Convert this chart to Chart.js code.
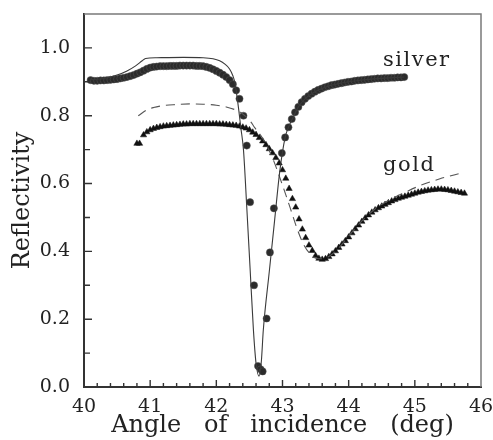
<!DOCTYPE html>
<html>
<head>
<meta charset="utf-8">
<script src="https://cdn.jsdelivr.net/npm/chart.js@4.4.0/dist/chart.umd.min.js"></script>
<style>
  body { margin: 0; background: #fff; }
</style>
</head>
<body>
<canvas id="chart" width="493" height="440"></canvas>
<script>
// measured reflectivity, silver film (circles)
const silverAngle = [40.10,40.15,40.20,40.25,40.30,40.35,40.40,40.45,40.50,40.55,40.60,40.65,40.70,40.75,40.80,40.85,40.90,40.95,41.00,41.05,41.10,41.15,41.20,41.25,41.30,41.35,41.40,41.45,41.50,41.55,41.60,41.65,41.70,41.75,41.80,41.85,41.90,41.95,42.00,42.05,42.10,42.15,42.20,42.25,42.30,42.35,42.41,42.46,42.51,42.57,42.63,42.67,42.70,42.76,42.81,42.87,42.99,43.04,43.09,43.14,43.19,43.24,43.29,43.34,43.39,43.44,43.49,43.54,43.59,43.64,43.69,43.74,43.79,43.84,43.89,43.94,43.99,44.04,44.09,44.14,44.19,44.24,44.29,44.34,44.39,44.44,44.49,44.54,44.59,44.64,44.69,44.74,44.79,44.84]
const silverMeas = [0.905,0.903,0.903,0.904,0.904,0.905,0.906,0.907,0.908,0.910,0.912,0.914,0.917,0.920,0.924,0.928,0.933,0.938,0.942,0.944,0.945,0.946,0.946,0.946,0.947,0.947,0.947,0.948,0.948,0.948,0.948,0.948,0.947,0.947,0.946,0.944,0.941,0.937,0.932,0.927,0.921,0.914,0.905,0.893,0.875,0.850,0.800,0.712,0.545,0.300,0.062,0.052,0.046,0.202,0.397,0.527,0.690,0.736,0.766,0.790,0.810,0.826,0.840,0.850,0.858,0.865,0.871,0.876,0.880,0.884,0.887,0.890,0.892,0.894,0.896,0.898,0.900,0.901,0.903,0.904,0.905,0.906,0.907,0.908,0.909,0.910,0.910,0.911,0.911,0.912,0.912,0.913,0.913,0.914]

// theory, silver (solid line)
const silverTheoryAngle = [40.10,40.30,40.50,40.65,40.78,40.88,40.93,41.10,41.50,41.80,41.95,42.05,42.13,42.20,42.25,42.28,42.31,42.34,42.37,42.41,42.46,42.51,42.56,42.60,42.645,42.68,42.71,42.80,42.88,42.96,43.04,43.09,43.16,43.24,43.34,43.49,43.69,43.94,44.24,44.54,44.84]
const silverTheory = [0.906,0.910,0.920,0.932,0.947,0.962,0.969,0.971,0.972,0.971,0.968,0.962,0.952,0.938,0.918,0.898,0.860,0.815,0.765,0.700,0.530,0.350,0.170,0.070,0.032,0.075,0.168,0.340,0.490,0.638,0.736,0.766,0.795,0.826,0.850,0.871,0.887,0.898,0.906,0.911,0.914]

// measured reflectivity, gold film (triangles)
const goldAngle = [40.80,40.84,40.90,40.95,41.00,41.05,41.10,41.15,41.20,41.25,41.30,41.35,41.40,41.45,41.50,41.55,41.60,41.65,41.70,41.75,41.80,41.85,41.90,41.95,42.00,42.05,42.10,42.15,42.20,42.25,42.30,42.35,42.40,42.45,42.50,42.55,42.60,42.65,42.70,42.75,42.80,42.85,42.90,42.95,43.00,43.05,43.10,43.15,43.20,43.25,43.30,43.35,43.40,43.45,43.50,43.55,43.60,43.65,43.70,43.75,43.80,43.85,43.90,43.95,44.00,44.05,44.10,44.15,44.20,44.25,44.30,44.35,44.40,44.45,44.50,44.55,44.60,44.65,44.70,44.75,44.80,44.85,44.90,44.95,45.00,45.05,45.10,45.15,45.20,45.25,45.30,45.35,45.40,45.45,45.50,45.55,45.60,45.65,45.70,45.75]
const goldMeas = [0.718,0.718,0.743,0.752,0.758,0.762,0.765,0.767,0.769,0.770,0.771,0.772,0.773,0.774,0.775,0.775,0.776,0.776,0.776,0.776,0.776,0.776,0.776,0.776,0.776,0.775,0.775,0.774,0.773,0.772,0.771,0.769,0.766,0.763,0.758,0.751,0.744,0.735,0.725,0.714,0.702,0.690,0.676,0.660,0.640,0.615,0.585,0.555,0.530,0.495,0.465,0.440,0.418,0.402,0.387,0.379,0.376,0.378,0.384,0.392,0.401,0.411,0.421,0.431,0.442,0.454,0.466,0.477,0.488,0.498,0.507,0.515,0.522,0.528,0.533,0.538,0.543,0.548,0.552,0.556,0.559,0.562,0.565,0.568,0.571,0.574,0.576,0.578,0.580,0.581,0.582,0.583,0.583,0.582,0.581,0.579,0.577,0.575,0.573,0.571]

// theory, gold (dashed line)
const goldTheoryAngle = [40.82,40.95,41.05,41.20,41.40,41.60,41.80,42.00,42.15,42.28,42.38,42.46,42.52,42.58,42.70,42.85,43.00,43.12,43.22,43.32,43.42,43.52,43.60,43.70,43.85,44.00,44.20,44.40,44.60,44.83,45.08,45.38,45.72]
const goldTheory = [0.800,0.817,0.824,0.830,0.833,0.835,0.834,0.831,0.826,0.818,0.808,0.795,0.782,0.765,0.733,0.675,0.595,0.526,0.467,0.420,0.392,0.379,0.378,0.385,0.410,0.445,0.490,0.525,0.550,0.572,0.594,0.614,0.632]

const xTickLabels = ['40','41','42','43','44','45','46']
const yTickLabels = ['0.0','0.2','0.4','0.6','0.8','1.0']

const pts = (xs, ys) => xs.map((x, i) => ({x: x, y: ys[i]}))
const serif = '"DejaVu Serif", serif'

// box, inward ticks and the two curve labels
const framePlugin = {
  id: 'framePlugin',
  afterDraw(chart) {
    const ctx = chart.ctx
    const xs = chart.scales.x
    const ys = chart.scales.y
    const L = xs.getPixelForValue(40)
    const R = xs.getPixelForValue(46)
    const T = ys.getPixelForValue(1.1)
    const B = ys.getPixelForValue(0)
    ctx.save()
    ctx.strokeStyle = '#7a7a7a'
    ctx.lineWidth = 1.5
    ctx.beginPath()
    ctx.moveTo(L, T)
    ctx.lineTo(R, T)
    ctx.lineTo(R, B)
    ctx.stroke()

    ctx.strokeStyle = '#333'
    ctx.lineWidth = 1.4
    ctx.beginPath()
    for (let i = 1; i < 30; i++) {
      const px = xs.getPixelForValue(40 + i * 0.2)
      const len = i % 5 === 0 ? 7 : 4
      ctx.moveTo(px, B)
      ctx.lineTo(px, B - len)
    }
    for (let i = 1; i <= 10; i++) {
      const py = ys.getPixelForValue(i * 0.1)
      const len = i % 2 === 0 ? 8 : 6
      ctx.moveTo(L, py)
      ctx.lineTo(L + len, py)
    }
    ctx.stroke()

    ctx.fillStyle = '#222'
    ctx.font = '21px ' + serif
    ctx.textAlign = 'left'
    ctx.textBaseline = 'alphabetic'
    ctx.letterSpacing = '1.5px'
    ctx.fillText('silver', xs.getPixelForValue(44.52), ys.getPixelForValue(0.947))
    ctx.fillText('gold', xs.getPixelForValue(44.52), ys.getPixelForValue(0.638))
    ctx.restore()
  }
}

new Chart(document.getElementById('chart'), {
  type: 'scatter',
  data: {
    datasets: [
      {
        label: 'silver theory',
        data: pts(silverTheoryAngle, silverTheory),
        showLine: true,
        borderColor: '#3a3a3a',
        borderWidth: 1.1,
        pointRadius: 0,
        cubicInterpolationMode: 'monotone'
      },
      {
        label: 'gold theory',
        data: pts(goldTheoryAngle, goldTheory),
        showLine: true,
        borderColor: '#555',
        borderWidth: 1.1,
        borderDash: [9, 6],
        pointRadius: 0,
        cubicInterpolationMode: 'monotone'
      },
      {
        label: 'silver',
        data: pts(silverAngle, silverMeas),
        pointStyle: 'circle',
        pointRadius: 3.6,
        backgroundColor: '#2b2b2b',
        borderColor: '#555',
        borderWidth: 0.5
      },
      {
        label: 'gold',
        data: pts(goldAngle, goldMeas),
        pointStyle: 'triangle',
        pointRadius: 3.6,
        backgroundColor: '#111',
        borderColor: '#111',
        borderWidth: 0.5
      }
    ]
  },
  options: {
    responsive: false,
    animation: false,
    layout: { padding: { left: 0, right: 12, top: 14, bottom: 0 } },
    plugins: { legend: { display: false }, tooltip: { enabled: false } },
    scales: {
      x: {
        type: 'linear',
        min: 40,
        max: 46,
        grid: { display: false, drawTicks: false },
        border: { display: true, color: '#333', width: 2 },
        ticks: {
          stepSize: 1,
          padding: 9,
          color: '#222',
          font: { family: serif, size: 19 },
          maxRotation: 0,
          callback: (v) => xTickLabels[Math.round(v - 40)]
        },
        title: {
          display: true,
          text: 'Angle   of   incidence   (deg)',
          color: '#222',
          font: { family: serif, size: 24 },
          padding: { top: 0, bottom: 0 }
        },
        afterFit: (s) => {
          s.height = 53
          s.paddingLeft = 0
          s.paddingRight = 0
        }
      },
      y: {
        type: 'linear',
        min: 0,
        max: 1.1,
        grid: { display: false, drawTicks: false },
        border: { display: true, color: '#333', width: 2 },
        ticks: {
          stepSize: 0.2,
          includeBounds: false,
          padding: 14,
          color: '#222',
          font: { family: serif, size: 19 },
          callback: (v) => yTickLabels[Math.round(v / 0.2)]
        },
        title: {
          display: true,
          text: 'Reflectivity',
          color: '#222',
          font: { family: serif, size: 24 },
          padding: { top: 8, bottom: 0 }
        },
        afterFit: (s) => {
          s.width = 84
          s.paddingTop = 0
          s.paddingBottom = 0
        }
      }
    }
  },
  plugins: [framePlugin]
})
</script>
</body>
</html>
